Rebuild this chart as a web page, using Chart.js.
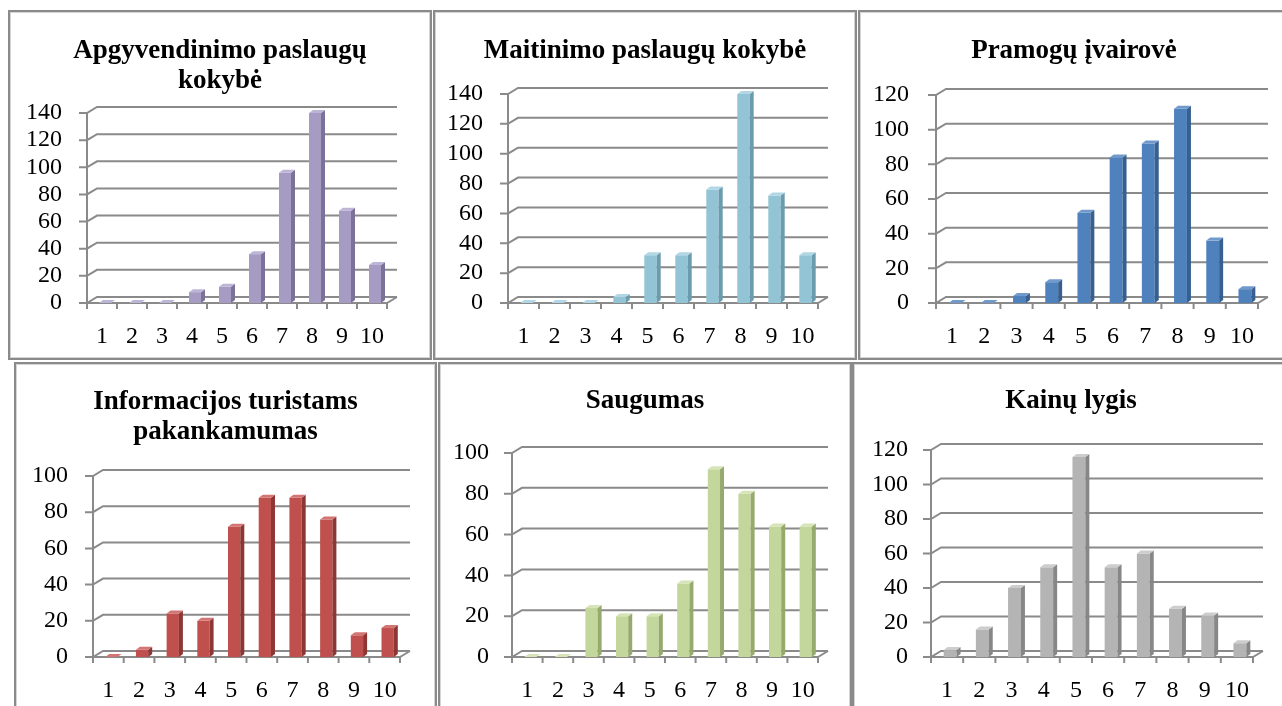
<!DOCTYPE html>
<html>
<head>
<meta charset="utf-8">
<script src="https://cdn.jsdelivr.net/npm/chart.js@4/dist/chart.umd.min.js"></script>
<style>
  html, body { margin: 0; padding: 0; background: #fff; overflow: hidden; }
  body { width: 1282px; height: 706px; position: relative; }
  .panel { position: absolute; box-sizing: border-box; border: 2px solid #8a8a8a; box-shadow: inset 0 0 0 1px #d4d4d4; background: #fff; }
  .panel canvas { position: absolute; left: 1px; top: 1px; }
</style>
</head>
<body>
<script>
// ---------- data ----------
const categories = ['1', '2', '3', '4', '5', '6', '7', '8', '9', '10'];
const apgyvendinimo = [0, 0, 0, 8, 12, 36, 96, 140, 68, 28];
const maitinimo     = [0, 0, 0, 4, 32, 32, 76, 140, 72, 32];
const pramogu       = [0, 0, 4, 12, 52, 84, 92, 112, 36, 8];
const informacijos  = [0, 4, 24, 20, 72, 88, 88, 76, 12, 16];
const saugumas      = [0, 0, 24, 20, 20, 36, 92, 80, 64, 64];
const kainu         = [4, 16, 40, 52, 116, 52, 60, 28, 24, 8];
const titles = [
  ['Apgyvendinimo paslaugų', 'kokybė'],
  'Maitinimo paslaugų kokybė',
  'Pramogų įvairovė',
  ['Informacijos turistams', 'pakankamumas'],
  'Saugumas',
  'Kainų lygis'
];
const yMaxima = [140, 140, 120, 100, 100, 120];
const yStep = 20;
const seriesList = [apgyvendinimo, maitinimo, pramogu, informacijos, saugumas, kainu];

// ---------- styling / layout ----------
const colors = [
  { front: '#a59bc3', side: '#7c7299', top: '#bdb5d6' },
  { front: '#93c4d6', side: '#6a9cad', top: '#b1d7e5' },
  { front: '#4f81bd', side: '#375f8f', top: '#7099cc' },
  { front: '#c0504d', side: '#8e3634', top: '#d27573' },
  { front: '#c3d69b', side: '#97aa6e', top: '#d6e4b8' },
  { front: '#b4b4b4', side: '#878787', top: '#cdcdcd' }
];
const panels = [
  { x: 8,   y: 10,  w: 424, h: 350, axisW: 76, padR: 42, tPadT: 23, tPadB: 17, bottom: 290, lblPad: 25 },
  { x: 433, y: 10,  w: 424, h: 350, axisW: 72, padR: 36, tPadT: 23, tPadB: 28, bottom: 290, lblPad: 25 },
  { x: 858, y: 10,  w: 432, h: 350, axisW: 75, padR: 29, tPadT: 23, tPadB: 29, bottom: 290, lblPad: 27 },
  { x: 14,  y: 362, w: 423, h: 358, axisW: 76, padR: 34, tPadT: 22, tPadB: 29, bottom: 292, lblPad: 25 },
  { x: 438, y: 362, w: 414, h: 358, axisW: 71, padR: 31, tPadT: 21, tPadB: 37, bottom: 292, lblPad: 23 },
  { x: 852, y: 362, w: 438, h: 358, axisW: 76, padR: 34, tPadT: 21, tPadB: 34, bottom: 292, lblPad: 23 }
];
const WALL_DX = 10, WALL_DY = -6;
const BAR_DX = 4, BAR_DY = -3;
const BAR_SHIFT = 3;
const X_AXIS_H = 54;

const threeD = {
  id: 'threeD',
  beforeDatasetsDraw(chart, args, opts) {
    const { ctx, chartArea: { left, right, top, bottom }, scales: { y } } = chart;
    ctx.save();
    ctx.strokeStyle = '#8a8a8a';
    ctx.lineWidth = 2;
    y.ticks.forEach(t => {
      const py = y.getPixelForValue(t.value);
      ctx.beginPath();
      ctx.moveTo(left - 8, py);
      ctx.lineTo(left, py);
      ctx.lineTo(left + WALL_DX, py + WALL_DY);
      ctx.lineTo(right + WALL_DX, py + WALL_DY);
      ctx.stroke();
    });
    ctx.beginPath();
    ctx.moveTo(left, top);
    ctx.lineTo(left, bottom + 6);
    ctx.stroke();
    ctx.beginPath();
    ctx.moveTo(left, bottom);
    ctx.lineTo(right, bottom);
    ctx.lineTo(right + WALL_DX, bottom + WALL_DY);
    ctx.stroke();
    const n = chart.data.labels.length;
    for (let i = 0; i <= n; i++) {
      const px = left + i * (right - left) / n;
      ctx.beginPath();
      ctx.moveTo(px, bottom);
      ctx.lineTo(px, bottom + 6);
      ctx.stroke();
    }
    ctx.restore();
    ctx.save();
    ctx.translate(BAR_SHIFT, 0);
  },
  afterDatasetsDraw(chart, args, opts) {
    const ctx = chart.ctx;
    const meta = chart.getDatasetMeta(0);
    meta.data.forEach(bar => {
      const { x, y, base, width } = bar.getProps(['x', 'y', 'base', 'width'], true);
      const l = x - width / 2, r = x + width / 2;
      ctx.fillStyle = opts.side;
      ctx.beginPath();
      ctx.moveTo(r, y);
      ctx.lineTo(r + BAR_DX, y + BAR_DY);
      ctx.lineTo(r + BAR_DX, base + BAR_DY);
      ctx.lineTo(r, base);
      ctx.closePath();
      ctx.fill();
      ctx.fillStyle = opts.top;
      ctx.beginPath();
      ctx.moveTo(l, y);
      ctx.lineTo(l + BAR_DX, y + BAR_DY);
      ctx.lineTo(r + BAR_DX, y + BAR_DY);
      ctx.lineTo(r, y);
      ctx.closePath();
      ctx.fill();
    });
    ctx.restore();
  }
};

panels.forEach((p, i) => {
  const div = document.createElement('div');
  div.className = 'panel';
  div.style.left = p.x + 'px';
  div.style.top = p.y + 'px';
  div.style.width = p.w + 'px';
  div.style.height = p.h + 'px';
  const cv = document.createElement('canvas');
  const cw = p.w - 6, ch = p.h - 6;
  cv.width = cw; cv.height = ch;
  cv.style.width = cw + 'px'; cv.style.height = ch + 'px';
  div.appendChild(cv);
  document.body.appendChild(div);

  const c = colors[i];
  new Chart(cv, {
    type: 'bar',
    data: {
      labels: categories,
      datasets: [{
        data: seriesList[i],
        backgroundColor: c.front,
        borderWidth: 0,
        barPercentage: 0.4,
        categoryPercentage: 1.0,
        yAxisID: 'y'
      }]
    },
    plugins: [threeD],
    options: {
      responsive: false,
      animation: false,
      devicePixelRatio: 1,
      layout: { padding: { left: 0, right: 0, top: 0, bottom: ch - p.bottom - X_AXIS_H } },
      plugins: {
        legend: { display: false },
        tooltip: { enabled: false },
        title: {
          display: true,
          text: titles[i],
          color: '#000',
          font: { family: 'Liberation Serif', size: 27, weight: 'bold', lineHeight: 30 / 27 },
          padding: { top: p.tPadT, bottom: p.tPadB }
        },
        threeD: { side: c.side, top: c.top }
      },
      scales: {
        x: {
          grid: { display: false, drawTicks: false },
          border: { display: false },
          ticks: { color: '#000', font: { family: 'Liberation Serif', size: 24 }, padding: 19, maxRotation: 0, autoSkip: false },
          afterFit(s) { s.height = X_AXIS_H; }
        },
        y: {
          min: 0,
          max: yMaxima[i],
          grid: { display: false, drawTicks: false },
          border: { display: false },
          ticks: { stepSize: yStep, autoSkip: false, color: '#000', font: { family: 'Liberation Serif', size: 24 }, padding: p.lblPad },
          afterFit(s) { s.width = p.axisW; }
        },
        spacer: {
          position: 'right',
          min: 0,
          max: 1,
          grid: { display: false, drawTicks: false },
          border: { display: false },
          ticks: { display: false },
          afterFit(s) { s.width = p.padR; }
        }
      }
    }
  });
});
</script>
</body>
</html>
